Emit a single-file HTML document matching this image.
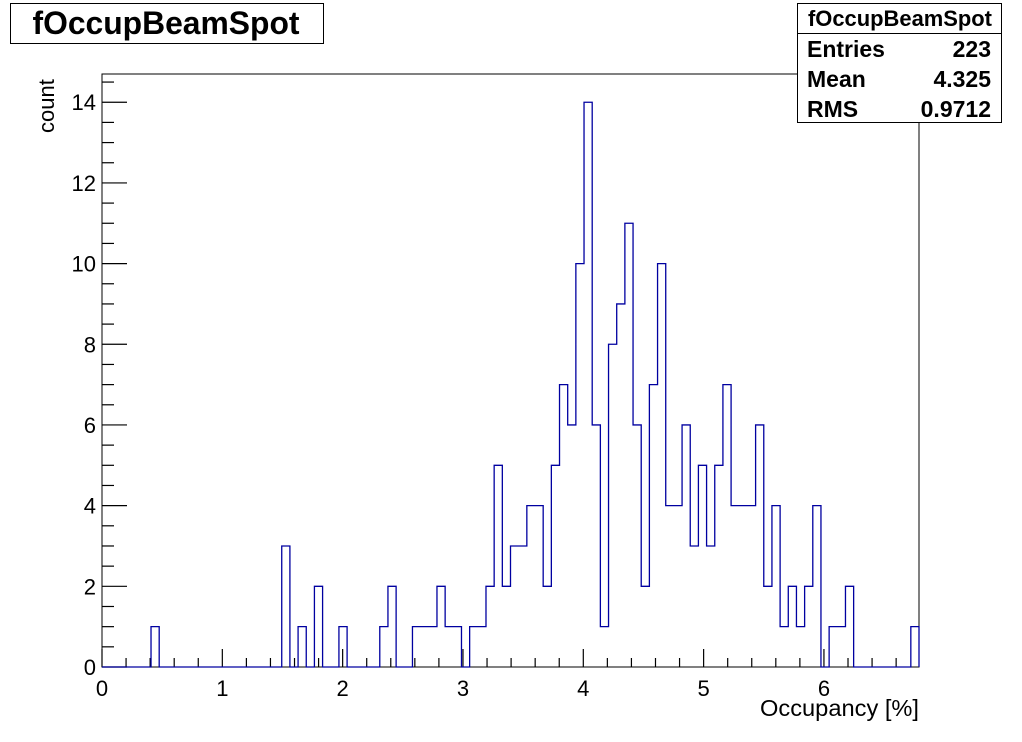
<!DOCTYPE html>
<html><head><meta charset="utf-8"><style>
html,body{margin:0;padding:0;background:#fff;width:1022px;height:742px;overflow:hidden}
svg{display:block;font-family:"Liberation Sans",sans-serif}
</style></head><body>
<svg id="chart" width="1022" height="742">
<rect x="0" y="0" width="1022" height="742" fill="#fff"/>
<rect x="102" y="74" width="817" height="593" fill="none" stroke="#000" stroke-width="1"/>
<g id="axes"></g>
<path id="hist" fill="none" stroke="#0000a0" stroke-width="1.3"/>
<g>
<rect x="10.5" y="3.5" width="313" height="40" fill="#fff" stroke="#000"/>
<text x="166" y="34" text-anchor="middle" font-size="32" font-weight="bold" textLength="267" lengthAdjust="spacingAndGlyphs">fOccupBeamSpot</text>
</g>
<g>
<rect x="797.5" y="3.5" width="204" height="119" fill="#fff" stroke="#000"/>
<line x1="797.5" y1="33.5" x2="1001.5" y2="33.5" stroke="#000"/>
<text x="900" y="26" text-anchor="middle" font-size="22" font-weight="bold" textLength="184" lengthAdjust="spacingAndGlyphs">fOccupBeamSpot</text>
<text x="807" y="57" font-size="23" font-weight="bold">Entries</text><text x="991" y="57" text-anchor="end" font-size="23" font-weight="bold">223</text>
<text x="807" y="87" font-size="23" font-weight="bold">Mean</text><text x="991" y="87" text-anchor="end" font-size="23" font-weight="bold">4.325</text>
<text x="807" y="117" font-size="23" font-weight="bold">RMS</text><text x="991" y="117" text-anchor="end" font-size="23" font-weight="bold">0.9712</text>
</g>
<text x="919" y="716" text-anchor="end" font-size="23" textLength="159" lengthAdjust="spacingAndGlyphs">Occupancy [%]</text>
<text transform="translate(54,133) rotate(-90)" font-size="22">count</text>
</svg>
<script>
const counts = [0,0,0,0,0,0,1,0,0,0, 0,0,0,0,0,0,0,0,0,0, 0,0,3,0,1,0,2,0,0,1, 0,0,0,0,1,2,0,0,1,1, 1,2,1,1,0,1,1,2,5,2, 3,3,4,4,2,5,7,6,10,14, 6,1,8,9,11,6,2,7,10,4, 4,6,3,5,3,5,7,4,4,4, 6,2,4,1,2,1,2,4,0,1, 1,2,0,0,0,0,0,0,0,1];
const xMin = 0, xMax = 6.79, yMin = 0, yMax = 14.7;
const xTickLabels = ["0","1","2","3","4","5","6"];
const yTickLabels = ["0","2","4","6","8","10","12","14"];
const X0=102,X1=919,Y0=667,Y1=74;
const sx=v=>X0+(v-xMin)/(xMax-xMin)*(X1-X0);
const sy=v=>Y0-(v-yMin)/(yMax-yMin)*(Y0-Y1);
const NS="http://www.w3.org/2000/svg";
const axes=document.getElementById('axes');
function line(x1,y1,x2,y2){const l=document.createElementNS(NS,'line');l.setAttribute('x1',x1);l.setAttribute('y1',y1);l.setAttribute('x2',x2);l.setAttribute('y2',y2);l.setAttribute('stroke','#000');l.setAttribute('stroke-width','1.2');axes.appendChild(l);return l;}
function text(x,y,s,anchor){const t=document.createElementNS(NS,'text');t.setAttribute('x',x);t.setAttribute('y',y);t.setAttribute('text-anchor',anchor);t.setAttribute('font-size','22');t.textContent=s;axes.appendChild(t);return t;}
for(let v=0;v<=xMax+1e-9;v+=0.2){const maj=Math.abs(v-Math.round(v))<1e-6;const x=sx(v);const l=line(x,Y0,x,Y0-(maj?18:9));

}
xTickLabels.forEach((s,i)=>{const t=text(sx(+s),696,s,'middle');

});
for(let v=0;v<=yMax+1e-9;v+=0.5){const maj=Math.abs(v/2-Math.round(v/2))<1e-6;const y=sy(v);const l=line(X0,y,X0+(maj?25:12),y);

}
yTickLabels.forEach(s=>{const t=text(96,sy(+s)+8,s,'end');

});
const w=(xMax-xMin)/counts.length;
let d='M'+sx(xMin)+','+sy(0);
counts.forEach((c,i)=>{d+=' L'+sx(xMin+i*w)+','+sy(c)+' L'+sx(xMin+(i+1)*w)+','+sy(c);});
d+=' L'+sx(xMax)+','+sy(0);
document.getElementById('hist').setAttribute('d',d);
</script>
</body></html>
